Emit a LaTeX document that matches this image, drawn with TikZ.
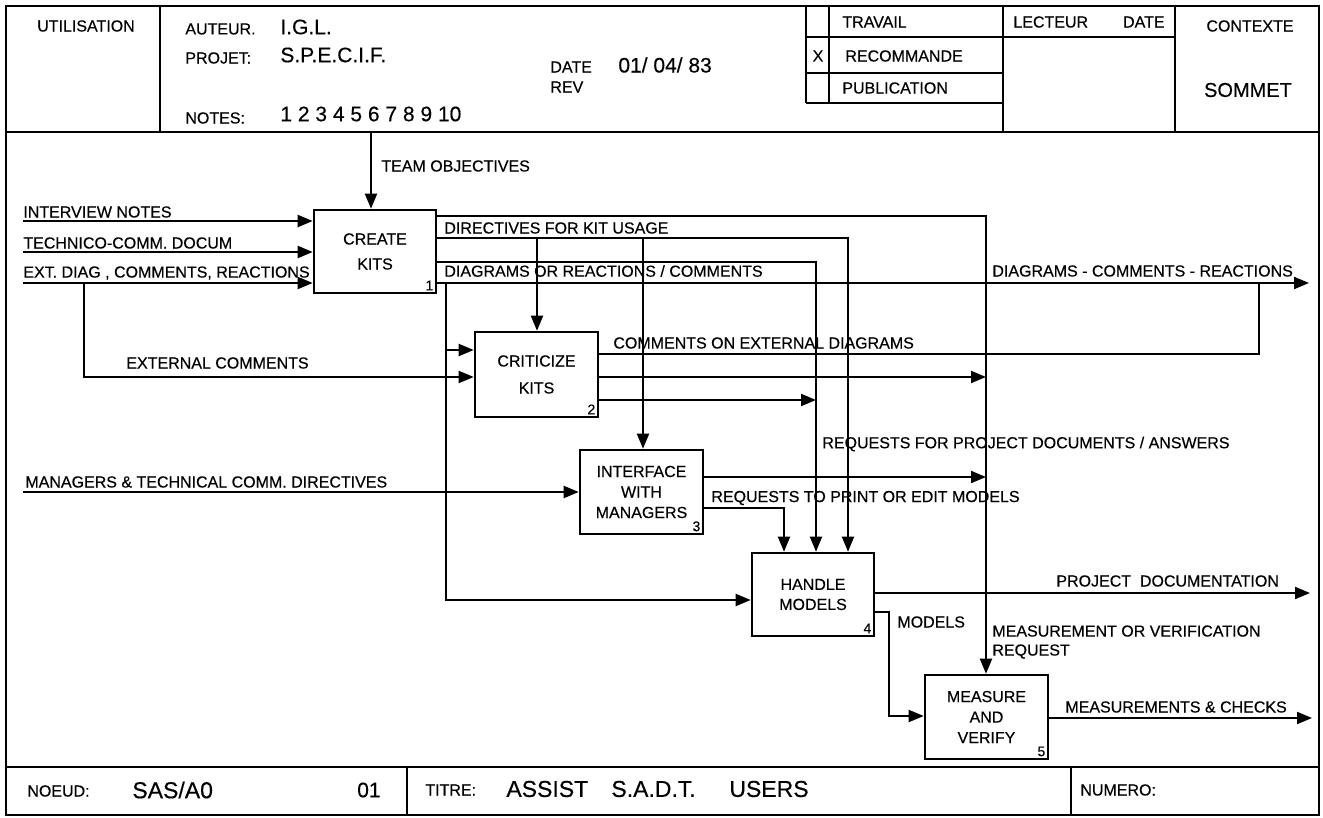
\documentclass[tikz,border=0pt]{standalone}
\usepackage{fontspec}
\setmainfont{Liberation Sans}[FakeBold=0.35]
\usetikzlibrary{arrows.meta}
\begin{document}
\begin{tikzpicture}[x=0.5pt,y=-0.5pt,
  lbl/.style={inner sep=0pt, font=\fontsize{8}{9.6}\selectfont},
  big/.style={inner sep=0pt, font=\fontsize{10.5}{12}\selectfont},
  frameline/.style={line width=1.2pt},
  wire/.style={line width=1pt},
  arr/.style={wire, -{Triangle[length=7.5pt,width=6pt]}},
  fbox/.style={draw, line width=1.3pt, inner sep=0pt, align=center},
  num/.style={inner sep=1.8pt, font=\fontsize{7}{8}\selectfont, anchor=south east}]

\useasboundingbox (0,0) rectangle (1323,818);
\fill[white] (0,0) rectangle (1323,818);

% ---------------- frame and form ----------------
\draw[frameline] (6,6) rectangle (1319,815);
\draw[frameline] (6,132) -- (1319,132);
\draw[frameline] (160,6) -- (160,132);
\draw[frameline] (806,6) -- (806,103);
\draw[frameline] (829,6) -- (829,103);
\draw[frameline] (1003,6) -- (1003,132);
\draw[frameline] (1175,6) -- (1175,132);
\draw[frameline] (806,37) -- (1175,37);
\draw[frameline] (806,73) -- (1003,73);
\draw[frameline] (806,103) -- (1003,103);
\draw[frameline] (6,767) -- (1319,767);
\draw[frameline] (407,767) -- (407,815);
\draw[frameline] (1071,767) -- (1071,815);

% header texts
\node[lbl] (hUtil) at (86,26) {UTILISATION};
\node[lbl, anchor=west] (hAut) at (185,29) {AUTEUR.};
\node[big, anchor=west] (hAutV) at (280,27) {I.G.L.};
\node[lbl, anchor=west] (hProj) at (185,58) {PROJET:};
\node[big, anchor=west] (hProjV) at (280,55) {S.P.E.C.I.F.};
\node[lbl, anchor=west] (hDate) at (550,67) {DATE};
\node[big, anchor=west] (hDateV) at (618,65) {01/ 04/ 83};
\node[lbl, anchor=west] (hRev) at (550,87) {REV};
\node[lbl, anchor=west] (hNotes) at (185,118) {NOTES:};
\node[big, anchor=west] (hNotesV) at (280,114) {1 2 3 4 5 6 7 8 9 10};
\node[lbl, anchor=west] (hTrav) at (842,22) {TRAVAIL};
\node[lbl] (hX) at (818,56) {X};
\node[lbl, anchor=west] (hReco) at (845,56) {RECOMMANDE};
\node[lbl, anchor=west] (hPub) at (842,88) {PUBLICATION};
\node[lbl, anchor=west] (hLect) at (1013,22) {LECTEUR};
\node[lbl, anchor=east] (hLDate) at (1165,22) {DATE};
\node[lbl] (hCtx) at (1250,26) {CONTEXTE};
\node[inner sep=0pt, font=\fontsize{10}{12}\selectfont] (hSom) at (1248,90) {SOMMET};

% footer texts
\node[lbl, anchor=west] (fNoeud) at (27,791) {NOEUD:};
\node[inner sep=0pt, font=\fontsize{11.5}{13}\selectfont, anchor=west] (fNoeudV) at (132,790) {SAS/A0};
\node[inner sep=0pt, font=\fontsize{10.5}{12}\selectfont, anchor=east] (fNum) at (381,790) {01};
\node[lbl, anchor=west] (fTitre) at (425,790) {TITRE:};
\node[inner sep=0pt, font=\fontsize{11.5}{13}\selectfont, anchor=west] (fT1) at (506,789) {ASSIST};
\node[inner sep=0pt, font=\fontsize{11.5}{13}\selectfont, anchor=west] (fT2) at (611,789) {S.A.D.T.};
\node[inner sep=0pt, font=\fontsize{11.5}{13}\selectfont, anchor=west] (fT3) at (729,789) {USERS};
\node[lbl, anchor=west] (fNumero) at (1080,790) {NUMERO:};

% ---------------- activity boxes ----------------
\node[fbox, minimum width=61pt, minimum height=41.5pt, font=\fontsize{8}{12.5}\selectfont] (ck) at (375,251.5) {CREATE\\KITS};
\node[fbox, minimum width=61.5pt, minimum height=42.5pt, font=\fontsize{8}{13.5}\selectfont] (cr) at (536.5,374.5) {CRITICIZE\\KITS};
\node[fbox, minimum width=61.5pt, minimum height=42pt, font=\fontsize{8}{10.25}\selectfont] (im) at (641.5,492) {INTERFACE\\WITH\\MANAGERS};
\node[fbox, minimum width=61pt, minimum height=41.5pt, font=\fontsize{8}{10}\selectfont] (hm) at (813,594.5) {HANDLE\\MODELS};
\node[fbox, minimum width=61.5pt, minimum height=42pt, font=\fontsize{8}{10.25}\selectfont] (mv) at (986.5,717) {MEASURE\\AND\\VERIFY};
\node[num] (n1) at (ck.south east) {1};
\node[num] (n2) at (cr.south east) {2};
\node[num] (n3) at (im.south east) {3};
\node[num] (n4) at (hm.south east) {4};
\node[num] (n5) at (mv.south east) {5};

% ---------------- junction coordinates ----------------
\coordinate (teamtop) at (371,132);
\coordinate (inA) at (23,221);
\coordinate (inB) at (23,252);
\coordinate (inC) at (23,283);
\coordinate (extC) at (84,283);
\coordinate (extD) at (84,377);
\coordinate (cA) at (986,216);
\coordinate (cB) at (848,238);
\coordinate (bB1) at (537,238);
\coordinate (bB2) at (643,238);
\coordinate (cC) at (816,262);
\coordinate (outD) at (1309,283);
\coordinate (jD) at (446,283);
\coordinate (jD2) at (446,600);
\coordinate (jD3) at (446,350);
\coordinate (cE) at (1259,354);
\coordinate (cE2) at (1259,283);
\coordinate (eA) at (986,377);
\coordinate (eB) at (816,400);
\coordinate (mgr) at (23,492);
\coordinate (eC) at (986,477);
\coordinate (cF) at (784,508);
\coordinate (outG) at (1310,593);
\coordinate (mA) at (889,612);
\coordinate (mB) at (889,716);
\coordinate (outH) at (1312,718);

% ---------------- connectors ----------------
\draw[arr] (teamtop) -- (ck.north -| teamtop);
\draw[arr] (inA) -- (ck.west |- inA);
\draw[arr] (inB) -- (ck.west |- inB);
\draw[arr] (inC) -- (ck.west |- inC);
\draw[arr] (extC) -- (extD) -- (cr.west |- extD);
\draw[arr] (ck.east |- cA) -- (cA) -- (mv.north -| cA);
\draw[arr] (ck.east |- cB) -- (cB) -- (hm.north -| cB);
\draw[arr] (bB1) -- (cr.north -| bB1);
\draw[arr] (bB2) -- (im.north -| bB2);
\draw[arr] (ck.east |- cC) -- (cC) -- (hm.north -| cC);
\draw[arr] (ck.east |- outD) -- (outD);
\draw[arr] (jD) -- (jD2) -- (hm.west |- jD2);
\draw[arr] (jD3) -- (cr.west |- jD3);
\draw[wire] (cr.east |- cE) -- (cE) -- (cE2);
\draw[arr] (cr.east |- eA) -- (eA);
\draw[arr] (cr.east |- eB) -- (eB);
\draw[arr] (mgr) -- (im.west |- mgr);
\draw[arr] (im.east |- eC) -- (eC);
\draw[arr] (im.east |- cF) -- (cF) -- (hm.north -| cF);
\draw[arr] (hm.east |- outG) -- (outG);
\draw[arr] (hm.east |- mA) -- (mA) -- (mB) -- (mv.west |- mB);
\draw[arr] (mv.east |- outH) -- (outH);

% ---------------- connector labels ----------------
\node[lbl, anchor=west] (lTeam) at (381,166) {TEAM OBJECTIVES};
\node[lbl, anchor=west] (lInt) at (23,212) {INTERVIEW NOTES};
\node[lbl, anchor=west] (lTech) at (23,243) {TECHNICO-COMM. DOCUM};
\node[lbl, anchor=west] (lExt) at (23,273) {EXT. DIAG , COMMENTS, REACTIONS};
\node[lbl, anchor=west] (lExtC) at (126,363) {EXTERNAL COMMENTS};
\node[lbl, anchor=west] (lDir) at (444,228) {DIRECTIVES FOR KIT USAGE};
\node[lbl, anchor=west] (lDor) at (444,271) {DIAGRAMS OR REACTIONS / COMMENTS};
\node[lbl, anchor=west] (lDcr) at (992,271) {DIAGRAMS - COMMENTS - REACTIONS};
\node[lbl, anchor=west] (lCom) at (613,343) {COMMENTS ON EXTERNAL DIAGRAMS};
\node[lbl, anchor=west] (lReq) at (822,444) {REQUESTS FOR PROJECT DOCUMENTS / ANSWERS};
\node[lbl, anchor=west] (lMgr) at (25,482) {MANAGERS \& TECHNICAL COMM. DIRECTIVES};
\node[lbl, anchor=west] (lPrint) at (711,498) {REQUESTS TO PRINT OR EDIT MODELS};
\node[lbl, anchor=west] (lPdoc) at (1056,581) {PROJECT\ \ DOCUMENTATION};
\node[lbl, anchor=west] (lMod) at (897,622) {MODELS};
\node[lbl, anchor=west, align=left, font=\fontsize{8}{9.5}\selectfont] (lMeas) at (992,642) {MEASUREMENT OR VERIFICATION\\REQUEST};
\node[lbl, anchor=west] (lChk) at (1065,707) {MEASUREMENTS \& CHECKS};
\end{tikzpicture}
\end{document}
